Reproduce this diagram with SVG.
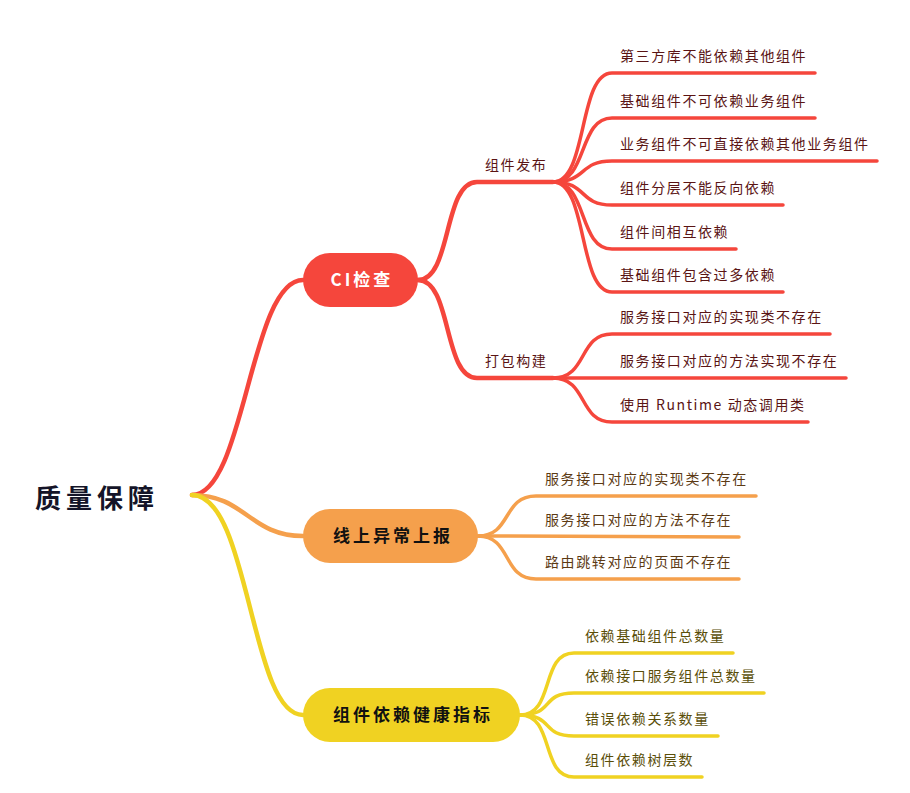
<svg xmlns="http://www.w3.org/2000/svg" width="910" height="793" viewBox="0 0 910 793">
<style>
.c{fill:none;stroke-linecap:round;stroke-linejoin:round}
.r{stroke:#f5463c}
.o{stroke:#f5a04c}
.y{stroke:#f0d222}
.m{stroke-width:4.5}
.l{stroke-width:3.5}
.t{font-family:"Noto Sans CJK SC","Noto Sans",sans-serif;font-size:14px;letter-spacing:1.6px}
.tr{fill:#5a1414}
.to{fill:#5c3a14}
.ty{fill:#5a4e08}
.nt{font-family:"Noto Sans CJK SC","Noto Sans",sans-serif;font-size:17px;font-weight:bold;letter-spacing:3px;text-anchor:middle}
</style>
<rect width="910" height="793" fill="#ffffff"/>
<g id="connectors">
<path class="c r m" d="M192,495 C245,495 250,280 303,280"/>
<path class="c o m" d="M192,495 C245,495 250,536 303,536"/>
<path class="c y m" d="M192,495 C250,495 250,715 303,715"/>
<path class="c r m" d="M418,280 C452,280 443,182 477,182 L553,182"/>
<path class="c r m" d="M418,280 C452,280 443,378 477,378 L553,378"/>
<path class="c r l" d="M553,182 C588,182 578,73 612,73 L815,73"/>
<path class="c r l" d="M553,182 C588,182 578,118 612,118 L815,118"/>
<path class="c r l" d="M553,182 C588,182 578,161 612,161 L877,161"/>
<path class="c r l" d="M553,182 C588,182 578,205 612,205 L783,205"/>
<path class="c r l" d="M553,182 C588,182 578,249 612,249 L736,249"/>
<path class="c r l" d="M553,182 C588,182 578,292 612,292 L783,292"/>
<path class="c r l" d="M553,378 C588,378 578,334 612,334 L830,334"/>
<path class="c r l" d="M553,378 L846,378"/>
<path class="c r l" d="M553,378 C588,378 578,422 612,422 L808,422"/>
<path class="c o l" d="M478,536 C512,536 502,496 536,496 L756,496"/>
<path class="c o l" d="M478,536 L739,537"/>
<path class="c o l" d="M478,536 C512,536 502,579 536,579 L739,579"/>
<path class="c y l" d="M520,715 C555,715 540,653 574,653 L733,653"/>
<path class="c y l" d="M520,715 C555,715 540,693 574,693 L764,693"/>
<path class="c y l" d="M520,715 C555,715 540,736 574,736 L718,736"/>
<path class="c y l" d="M520,715 C555,715 540,777 574,777 L702,777"/>
</g>
<g id="root">
<text x="35" y="508" font-family="'Noto Sans CJK SC','Noto Sans',sans-serif" font-size="26" font-weight="bold" letter-spacing="5" fill="#141428">质量保障</text>
</g>
<g id="n-ci">
<rect x="303" y="253" width="115" height="54" rx="27" fill="#f5463c"/>
<text class="nt" x="362" y="286" fill="#ffffff" letter-spacing="2">CI检查</text>
</g>
<g id="n-online">
<rect x="303" y="509" width="175" height="54" rx="27" fill="#f5a04c"/>
<text class="nt" x="393" y="542" fill="#111111">线上异常上报</text>
</g>
<g id="n-health">
<rect x="303" y="688" width="217" height="54" rx="27" fill="#f0d222"/>
<text class="nt" x="413" y="721" fill="#111111">组件依赖健康指标</text>
</g>
<g id="sub-publish"><text class="t tr" x="485" y="170">组件发布</text></g>
<g id="sub-build"><text class="t tr" x="485" y="366">打包构建</text></g>
<g id="leaf-r1"><text class="t tr" x="620" y="61">第三方库不能依赖其他组件</text></g>
<g id="leaf-r2"><text class="t tr" x="620" y="106">基础组件不可依赖业务组件</text></g>
<g id="leaf-r3"><text class="t tr" x="620" y="149">业务组件不可直接依赖其他业务组件</text></g>
<g id="leaf-r4"><text class="t tr" x="620" y="193">组件分层不能反向依赖</text></g>
<g id="leaf-r5"><text class="t tr" x="620" y="237">组件间相互依赖</text></g>
<g id="leaf-r6"><text class="t tr" x="620" y="280">基础组件包含过多依赖</text></g>
<g id="leaf-r7"><text class="t tr" x="620" y="322">服务接口对应的实现类不存在</text></g>
<g id="leaf-r8"><text class="t tr" x="620" y="366">服务接口对应的方法实现不存在</text></g>
<g id="leaf-r9"><text class="t tr" x="620" y="410">使用 Runtime 动态调用类</text></g>
<g id="leaf-o1"><text class="t to" x="545" y="484">服务接口对应的实现类不存在</text></g>
<g id="leaf-o2"><text class="t to" x="545" y="525">服务接口对应的方法不存在</text></g>
<g id="leaf-o3"><text class="t to" x="545" y="567">路由跳转对应的页面不存在</text></g>
<g id="leaf-y1"><text class="t ty" x="585" y="641">依赖基础组件总数量</text></g>
<g id="leaf-y2"><text class="t ty" x="585" y="681">依赖接口服务组件总数量</text></g>
<g id="leaf-y3"><text class="t ty" x="585" y="724">错误依赖关系数量</text></g>
<g id="leaf-y4"><text class="t ty" x="585" y="765">组件依赖树层数</text></g>
</svg>
